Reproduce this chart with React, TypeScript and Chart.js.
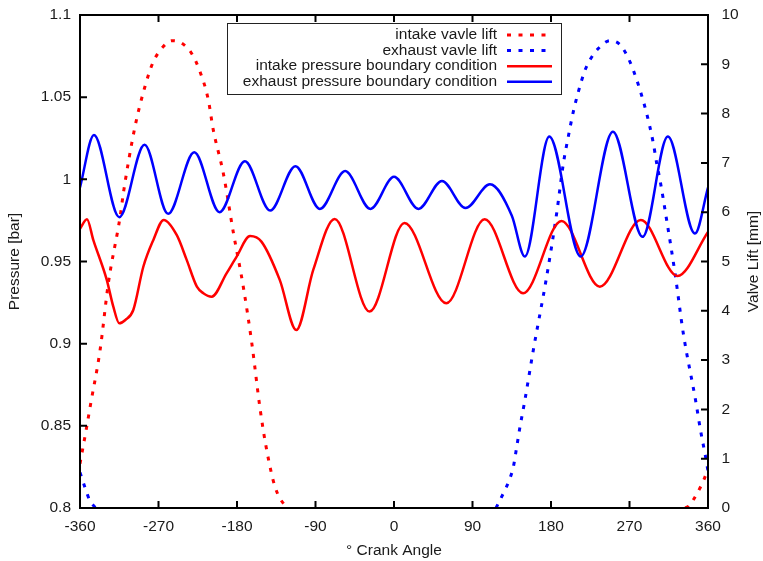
import React, { useEffect, useRef } from "react";
import { Chart, registerables } from "chart.js";

Chart.register(...registerables);

// ---------- data ----------
const crankTicks = [-360, -270, -180, -90, 0, 90, 180, 270, 360];

const intakeLiftAngle = [-360, -353, -347.7, -337, -327.5, -314, -310, -297, -285.5, -276, -264.5, -255, -243.4, -232, -222.4, -212.9, -207.2, -195.7, -184, -172.8, -163, -153.6, -146, -136.4, -125, -121, 0, 334, 338, 347.6, 355.2, 360];
const intakeLiftMm = [0.9, 1.58, 2.12, 3.2, 4.56, 5.91, 6.42, 7.73, 8.55, 9.05, 9.36, 9.48, 9.43, 9.22, 8.85, 8.28, 7.67, 6.79, 5.57, 4.49, 3.34, 2.02, 1.18, 0.43, 0.05, 0, null, 0, 0.04, 0.3, 0.57, 0.8];

const exhaustLiftAngle = [-360, -354, -349, -342, 0, 117, 127.3, 132.3, 136.9, 140.7, 144.5, 149.4, 159.7, 175, 186.5, 194.2, 199.8, 205.6, 211.3, 219, 224.7, 234.2, 247.7, 258.4, 266.8, 274.4, 282, 289.7, 297.3, 301.2, 305, 312.6, 322.2, 331.7, 345.7, 351.4, 357.2, 360];
const exhaustLiftMm = [0.72, 0.4, 0.16, 0, null, 0, 0.37, 0.57, 0.84, 1.24, 1.65, 2.12, 3.2, 4.69, 5.98, 6.99, 7.53, 8.04, 8.44, 8.88, 9.09, 9.32, 9.48, 9.41, 9.19, 8.88, 8.48, 8.0, 7.4, 6.99, 6.65, 5.84, 4.76, 3.54, 2.19, 1.58, 1.04, 0.75];

const intakePressureAngle = [-360, -352, -344.7, -329.4, -321.8, -315, -308, -298.9, -287.4, -276, -264, -249, -237.7, -226, -218.6, -209, -192, -180.4, -165, -152, -131, -112, -92.5, -68, -28, 12, 60, 104, 148, 192, 236, 283, 325, 360];
const intakePressureBar = [0.970, 0.9757, 0.963, 0.939, 0.9225, 0.9124, 0.9144, 0.9205, 0.9468, 0.963, 0.9753, 0.966, 0.951, 0.9347, 0.9307, 0.9286, 0.9428, 0.953, 0.9655, 0.9621, 0.9388, 0.9083, 0.945, 0.9759, 0.9195, 0.9735, 0.9246, 0.9757, 0.9307, 0.9747, 0.9347, 0.9753, 0.9412, 0.968];

const exhaustPressureAngle = [-360, -344, -315, -286, -259, -229, -200, -171, -142, -113, -85, -56, -27, 0, 28, 55, 82, 110, 135, 150, 178, 214, 251, 285, 314, 345, 360];
const exhaustPressureBar = [0.995, 1.027, 0.977, 1.021, 0.979, 1.0165, 0.980, 1.011, 0.981, 1.008, 0.982, 1.005, 0.982, 1.0015, 0.982, 0.999, 0.9825, 0.997, 0.978, 0.953, 1.026, 0.953, 1.029, 0.965, 1.026, 0.967, 0.995];

const seriesLabels = [
  "intake vavle lift",
  "exhaust vavle lift",
  "intake pressure boundary condition",
  "exhaust pressure boundary condition",
];

const RED = "#ff0000";
const BLUE = "#0000ff";
const FONT = "'Liberation Sans', Arial, Helvetica, sans-serif";
const TEXT = "#1a1a1a";

const toPoints = (xs: number[], ys: (number | null)[]) =>
  xs.map((x, i) => ({ x, y: ys[i] }));

const framePlugin = {
  id: "gnuplotFrame",
  afterDraw(chart: any) {
    const { ctx, chartArea, scales } = chart;
    const { left, right, top, bottom } = chartArea;
    ctx.save();
    ctx.strokeStyle = "#000";
    ctx.lineWidth = 2;
    const tl = 7;
    ctx.beginPath();
    scales.x.ticks.forEach((t: any) => {
      const px = scales.x.getPixelForValue(t.value);
      ctx.moveTo(px, bottom);
      ctx.lineTo(px, bottom - tl);
      ctx.moveTo(px, top);
      ctx.lineTo(px, top + tl);
    });
    scales.y.ticks.forEach((t: any) => {
      const py = scales.y.getPixelForValue(t.value);
      ctx.moveTo(left, py);
      ctx.lineTo(left + tl, py);
    });
    scales.y2.ticks.forEach((t: any) => {
      const py = scales.y2.getPixelForValue(t.value);
      ctx.moveTo(right, py);
      ctx.lineTo(right - tl, py);
    });
    ctx.stroke();
    ctx.strokeRect(left, top, right - left, bottom - top);

    // right axis title (reads bottom to top like gnuplot)
    ctx.fillStyle = TEXT;
    ctx.font = `15.5px ${FONT}`;
    ctx.textAlign = "center";
    ctx.textBaseline = "middle";
    ctx.save();
    ctx.translate(754, (top + bottom) / 2);
    ctx.rotate(-Math.PI / 2);
    ctx.fillText("Valve Lift [mm]", 0, 0);
    ctx.restore();

    // legend box
    const bx = 227.5, by = 23.5, bw = 334, bh = 71;
    ctx.fillStyle = "#fff";
    ctx.fillRect(bx, by, bw, bh);
    ctx.lineWidth = 1;
    ctx.strokeStyle = "#222";
    ctx.strokeRect(bx, by, bw, bh);
    const rowY0 = 35, rowDy = 15.6;
    chart.data.datasets.forEach((ds: any, i: number) => {
      const y = rowY0 + i * rowDy;
      ctx.fillStyle = TEXT;
      ctx.textAlign = "right";
      ctx.textBaseline = "middle";
      ctx.fillText(ds.label, 497, y);
      ctx.strokeStyle = ds.borderColor;
      ctx.lineWidth = ds.borderWidth;
      ctx.setLineDash(ds.borderDash || []);
      ctx.beginPath();
      ctx.moveTo(507, y);
      ctx.lineTo(552, y);
      ctx.stroke();
      ctx.setLineDash([]);
    });
    ctx.restore();
  },
};

export default function App() {
  const canvasRef = useRef<HTMLCanvasElement | null>(null);

  useEffect(() => {
    if (!canvasRef.current) return;
    const dotted = [4, 7.5];
    const chart = new Chart(canvasRef.current, {
      type: "line",
      data: {
        datasets: [
          {
            label: seriesLabels[0],
            data: toPoints(intakeLiftAngle, intakeLiftMm),
            yAxisID: "y2",
            borderColor: RED,
            borderWidth: 3,
            borderDash: dotted,
            order: 4,
          },
          {
            label: seriesLabels[1],
            data: toPoints(exhaustLiftAngle, exhaustLiftMm),
            yAxisID: "y2",
            borderColor: BLUE,
            borderWidth: 3,
            borderDash: dotted,
            order: 3,
          },
          {
            label: seriesLabels[2],
            data: toPoints(intakePressureAngle, intakePressureBar),
            yAxisID: "y",
            borderColor: RED,
            borderWidth: 2.5,
            order: 2,
          },
          {
            label: seriesLabels[3],
            data: toPoints(exhaustPressureAngle, exhaustPressureBar),
            yAxisID: "y",
            borderColor: BLUE,
            borderWidth: 2.5,
            order: 1,
          },
        ] as any,
      },
      options: {
        animation: false,
        responsive: false,
        devicePixelRatio: 1,
        parsing: true,
        spanGaps: false,
        layout: { padding: { top: 15, left: 0, right: 0, bottom: 0 } },
        elements: {
          point: { radius: 0, hoverRadius: 0 },
          line: { cubicInterpolationMode: "monotone", fill: false },
        },
        plugins: {
          legend: { display: false },
          tooltip: { enabled: false },
        },
        scales: {
          x: {
            type: "linear",
            min: -360,
            max: 360,
            afterBuildTicks: (scale: any) => {
              scale.ticks = crankTicks.map((v) => ({ value: v }));
            },
            afterFit: (scale: any) => {
              scale.height = 53;
              scale.paddingLeft = 0;
              scale.paddingRight = 0;
            },
            grid: { display: false, drawTicks: false },
            border: { display: false },
            ticks: {
              padding: 9,
              color: TEXT,
              font: { size: 15.5, family: FONT },
              maxRotation: 0,
              autoSkip: false,
              callback: (v: any) => String(v),
            },
            title: {
              display: true,
              text: "° Crank Angle",
              color: TEXT,
              font: { size: 15.5, family: FONT },
              padding: { top: 0, bottom: 0.5 },
            },
          },
          y: {
            type: "linear",
            position: "left",
            min: 0.8,
            max: 1.1,
            afterFit: (scale: any) => {
              scale.width = 80;
              scale.paddingTop = 0;
              scale.paddingBottom = 0;
            },
            grid: { display: false, drawTicks: false },
            border: { display: false },
            ticks: {
              stepSize: 0.05,
              padding: 9,
              color: TEXT,
              font: { size: 15.5, family: FONT },
              callback: (v: any) => String(Number(Number(v).toFixed(2))),
            },
            title: {
              display: true,
              text: "Pressure [bar]",
              color: TEXT,
              font: { size: 15.5, family: FONT },
              padding: { top: 5, bottom: 0 },
            },
          },
          y2: {
            type: "linear",
            position: "right",
            min: 0,
            max: 10,
            afterFit: (scale: any) => {
              scale.width = 55;
              scale.paddingTop = 0;
              scale.paddingBottom = 0;
            },
            grid: { display: false, drawTicks: false },
            border: { display: false },
            ticks: {
              stepSize: 1,
              padding: 13.5,
              color: TEXT,
              font: { size: 15.5, family: FONT },
            },
          },
        },
      } as any,
      plugins: [framePlugin],
    });
    return () => chart.destroy();
  }, []);

  return (
    <div style={{ position: "fixed", left: 0, top: 0, width: 763, height: 561, background: "#fff" }}>
      <canvas ref={canvasRef} width={763} height={561} style={{ display: "block" }} />
    </div>
  );
}
